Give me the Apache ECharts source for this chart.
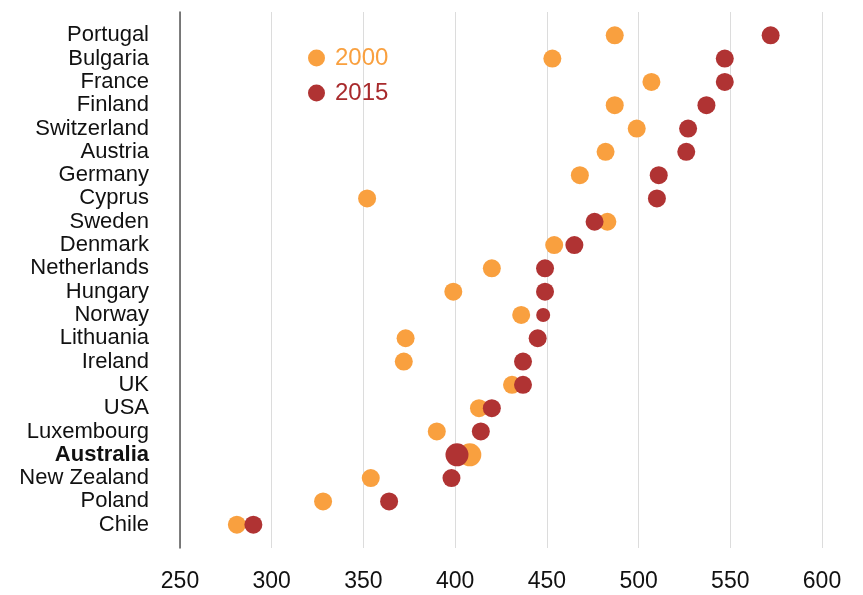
<!DOCTYPE html>
<html>
<head>
<meta charset="utf-8">
<script src="https://cdn.jsdelivr.net/npm/echarts@6/dist/echarts.min.js"></script>
<style>html,body{margin:0;padding:0;background:#fff}#c{width:863px;height:595px}</style>
</head>
<body>
<div id="c"></div>
<script>
const countries = ['Portugal','Bulgaria','France','Finland','Switzerland','Austria','Germany','Cyprus','Sweden','Denmark','Netherlands','Hungary','Norway','Lithuania','Ireland','UK','USA','Luxembourg','Australia','New Zealand','Poland','Chile'];
const values2000 = [487,453,507,487,499,482,468,352,483,454,420,399,436,373,372,431,413,390,408,354,328,281];
const values2015 = [572,547,547,537,527,526,511,510,476,465,449,449,448,445,437,437,420,414,401,398,364,290];
const xTicks = [250,300,350,400,450,500,550,600];
const seriesNames = ['2000','2015'];

const FF = "'Liberation Sans', Arial, sans-serif";
const cats = [''].concat(countries, ['']);
const C2000 = '#F9A03F', C2015 = '#B03333';
function pts(vals, name) {
  return vals.map((v, i) => {
    const c = countries[i];
    let size = 18;
    if (c === 'Australia') size = 23;
    if (c === 'Norway' && name === '2015') size = 14;
    return { value: [v, c], symbolSize: size };
  });
}
const chart = echarts.init(document.getElementById('c'));
chart.setOption({
  animation: false,
  grid: { left: 180, right: 41, top: 12, bottom: 47 },
  legend: {
    orient: 'vertical', left: 303, top: 41, itemWidth: 17, itemHeight: 17, itemGap: 11,
    icon: 'circle',
    data: [
      { name: seriesNames[0], textStyle: { color: C2000 } },
      { name: seriesNames[1], textStyle: { color: '#A82A2C' } }
    ],
    textStyle: { fontSize: 24, fontFamily: FF, padding: [0,0,0,5] }
  },
  xAxis: {
    type: 'value', min: xTicks[0], max: xTicks[xTicks.length - 1], interval: 50,
    axisLine: { show: false }, axisTick: { show: false },
    splitLine: { show: true, lineStyle: { color: '#dcdcdc', width: 1 } },
    axisLabel: { fontSize: 23, color: '#111', fontFamily: FF, margin: 22 }
  },
  yAxis: {
    type: 'category', data: cats, inverse: true, boundaryGap: false,
    axisLine: { show: true, onZero: false, lineStyle: { color: '#555', width: 1.5 } },
    axisTick: { show: false }, splitLine: { show: false },
    axisLabel: {
      interval: 0, margin: 31, fontSize: 22, color: '#111', fontFamily: FF,
      formatter: v => v === 'Australia' ? '{b|' + v + '}' : v,
      rich: { b: { fontWeight: 'bold', fontSize: 22, color: '#111', fontFamily: FF } }
    }
  },
  series: [
    { name: seriesNames[0], type: 'scatter', data: pts(values2000, '2000'), itemStyle: { color: C2000, opacity: 1 }, z: 2 },
    { name: seriesNames[1], type: 'scatter', data: pts(values2015, '2015'), itemStyle: { color: C2015, opacity: 1 }, z: 3 }
  ]
});
</script>
</body>
</html>
